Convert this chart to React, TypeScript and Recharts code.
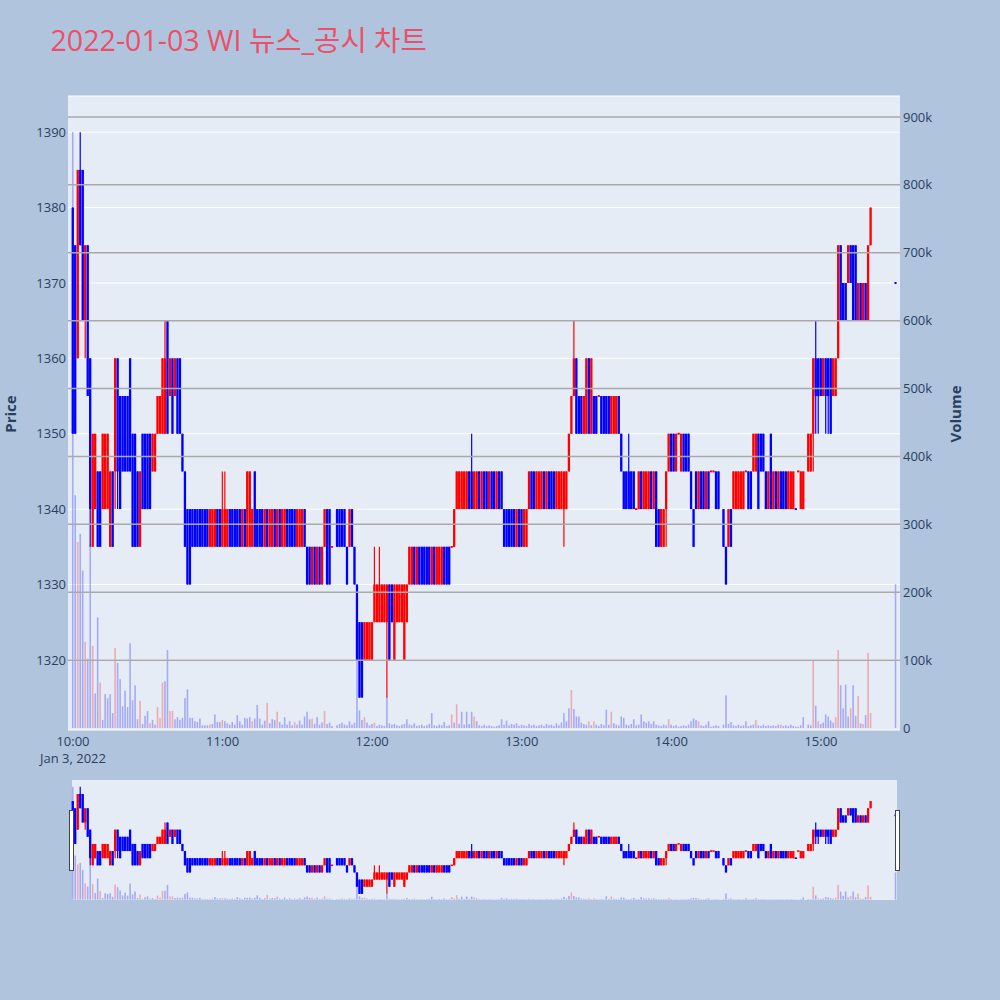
import React from "react";
import { ComposedChart, Bar, XAxis, YAxis, CartesianGrid, ReferenceLine } from "recharts";

// one row per minute from 10:00: [open, high, low, close, volume(k)], null = no trade
type Candle = [number, number, number, number, number] | null;

const timeTicks = [0, 60, 120, 180, 240, 300];
const timeLabels = ["10:00", "11:00", "12:00", "13:00", "14:00", "15:00"];
const priceTicks = [1320, 1330, 1340, 1350, 1360, 1370, 1380, 1390];
const volumeTicks = [0, 100, 200, 300, 400, 500, 600, 700, 800, 900];

const session10: Candle[] = [
  [1380, 1380, 1350, 1350, 878], [1375, 1375, 1350, 1350, 343], [1360, 1385, 1360, 1385, 274], [1385, 1390, 1375, 1375, 286],
  [1385, 1385, 1365, 1365, 232], [1365, 1375, 1360, 1375, 127], [1375, 1375, 1355, 1355, 102], [1360, 1360, 1335, 1340, 270],
  [1335, 1350, 1335, 1350, 121], [1340, 1350, 1340, 1350, 51], [1345, 1345, 1335, 1335, 163], [1345, 1345, 1335, 1335, 67],
  [1340, 1350, 1340, 1350, 12], [1340, 1350, 1340, 1350, 50], [1340, 1350, 1340, 1350, 44], [1335, 1345, 1335, 1345, 50],
  [1345, 1345, 1335, 1335, 22], [1345, 1360, 1340, 1360, 118], [1360, 1360, 1340, 1345, 96], [1355, 1355, 1340, 1340, 72],
  [1355, 1355, 1345, 1345, 32], [1355, 1355, 1345, 1345, 55], [1355, 1355, 1345, 1345, 31], [1360, 1360, 1345, 1345, 125],
  [1350, 1350, 1335, 1335, 41], [1350, 1350, 1335, 1335, 63], [1345, 1345, 1335, 1335, 13], [1335, 1345, 1335, 1345, 40],
  [1350, 1350, 1340, 1340, 6], [1350, 1350, 1340, 1340, 18], [1350, 1350, 1340, 1340, 25], [1350, 1350, 1340, 1340, 7],
  [1345, 1350, 1345, 1350, 12], [1345, 1350, 1345, 1350, 5], [1350, 1355, 1350, 1355, 31], [1350, 1355, 1350, 1355, 15],
  [1350, 1360, 1350, 1360, 67], [1350, 1365, 1350, 1360, 69], [1365, 1365, 1350, 1350, 115], [1355, 1360, 1355, 1360, 25],
  [1360, 1360, 1350, 1350, 25], [1355, 1360, 1355, 1360, 13], [1360, 1360, 1350, 1350, 16], [1360, 1360, 1350, 1350, 12],
  [1350, 1350, 1345, 1345, 15], [1345, 1345, 1335, 1335, 44], [1340, 1340, 1330, 1330, 57], [1340, 1340, 1330, 1330, 15],
  [1340, 1340, 1335, 1335, 15], [1340, 1340, 1335, 1335, 10], [1340, 1340, 1335, 1335, 9], [1340, 1340, 1335, 1335, 14],
  [1340, 1340, 1335, 1335, 4], [1340, 1340, 1335, 1335, 4], [1340, 1340, 1335, 1335, 4], [1335, 1340, 1335, 1340, 5],
  [1335, 1340, 1335, 1340, 6], [1335, 1340, 1335, 1340, 20], [1340, 1340, 1335, 1335, 9], [1340, 1340, 1335, 1335, 9],
];

const session11: Candle[] = [
  [1335, 1345, 1335, 1340, 12], [1335, 1345, 1335, 1340, 10], [1335, 1340, 1335, 1340, 7], [1340, 1340, 1335, 1335, 5],
  [1340, 1340, 1335, 1335, 9], [1340, 1340, 1335, 1335, 5], [1340, 1340, 1335, 1335, 19], [1340, 1340, 1335, 1335, 10],
  [1335, 1340, 1335, 1340, 5], [1340, 1340, 1335, 1335, 15], [1335, 1345, 1335, 1345, 14], [1335, 1345, 1335, 1345, 16],
  [1335, 1340, 1335, 1340, 10], [1345, 1345, 1335, 1335, 14], [1340, 1340, 1335, 1335, 34], [1340, 1340, 1335, 1335, 14],
  [1340, 1340, 1335, 1335, 5], [1335, 1340, 1335, 1340, 11], [1340, 1340, 1335, 1335, 37], [1335, 1340, 1335, 1340, 7],
  [1335, 1340, 1335, 1340, 13], [1340, 1340, 1335, 1335, 12], [1335, 1340, 1335, 1340, 24], [1340, 1340, 1335, 1335, 9],
  [1335, 1340, 1335, 1340, 5], [1335, 1340, 1335, 1340, 16], [1340, 1340, 1335, 1335, 5], [1340, 1340, 1335, 1335, 10],
  [1340, 1340, 1335, 1335, 4], [1340, 1340, 1335, 1335, 9], [1335, 1340, 1335, 1340, 5], [1335, 1340, 1335, 1340, 11],
  [1335, 1340, 1335, 1340, 5], [1340, 1340, 1335, 1335, 17], [1335, 1335, 1330, 1330, 24], [1335, 1335, 1330, 1330, 13],
  [1330, 1335, 1330, 1335, 14], [1335, 1335, 1330, 1330, 6], [1330, 1335, 1330, 1335, 16], [1335, 1335, 1330, 1330, 5],
  [1330, 1335, 1330, 1335, 8], [1335, 1340, 1335, 1340, 25], [1340, 1340, 1330, 1330, 6], [1340, 1340, 1330, 1330, 8],
  [1335, 1335, 1335, 1335, 3], null, [1340, 1340, 1335, 1335, 4], [1340, 1340, 1335, 1335, 6],
  [1340, 1340, 1335, 1335, 8], [1340, 1340, 1335, 1335, 5], [1335, 1335, 1330, 1330, 4], [1335, 1340, 1335, 1340, 10],
  [1340, 1340, 1335, 1335, 5], [1335, 1335, 1330, 1330, 8], [1330, 1330, 1320, 1320, 100], [1325, 1325, 1315, 1315, 26],
  [1325, 1325, 1315, 1315, 12], [1320, 1325, 1320, 1325, 16], [1320, 1325, 1320, 1325, 8], [1320, 1325, 1320, 1325, 4],
];

const session12: Candle[] = [
  [1320, 1325, 1320, 1325, 6], [1325, 1335, 1325, 1330, 8], [1325, 1330, 1325, 1330, 3], [1325, 1335, 1325, 1330, 5],
  [1325, 1330, 1325, 1330, 4], [1325, 1330, 1325, 1330, 3], [1325, 1330, 1315, 1330, 46], [1330, 1330, 1320, 1320, 7],
  [1330, 1330, 1325, 1325, 5], [1320, 1330, 1320, 1330, 6], [1325, 1330, 1325, 1330, 4], [1325, 1330, 1325, 1330, 3],
  [1325, 1330, 1325, 1330, 5], [1320, 1330, 1320, 1330, 6], [1325, 1330, 1325, 1330, 13], [1330, 1335, 1330, 1335, 5],
  [1330, 1335, 1330, 1335, 4], [1335, 1335, 1330, 1330, 7], [1330, 1335, 1330, 1335, 3], [1335, 1335, 1330, 1330, 4],
  [1335, 1335, 1330, 1330, 5], [1335, 1335, 1330, 1330, 3], [1335, 1335, 1330, 1330, 4], [1335, 1335, 1330, 1330, 6],
  [1330, 1335, 1330, 1335, 22], [1335, 1335, 1330, 1330, 4], [1330, 1335, 1330, 1335, 3], [1330, 1335, 1330, 1335, 5],
  [1330, 1335, 1330, 1335, 4], [1335, 1335, 1330, 1330, 9], [1335, 1335, 1330, 1330, 3], [1335, 1335, 1330, 1330, 4],
  [1335, 1335, 1335, 1335, 20], [1335, 1340, 1335, 1340, 8], [1340, 1345, 1340, 1345, 35], [1340, 1345, 1340, 1345, 6],
  [1340, 1345, 1340, 1345, 24], [1340, 1345, 1340, 1345, 5], [1340, 1345, 1340, 1345, 24], [1345, 1345, 1340, 1340, 6],
  [1345, 1350, 1340, 1340, 24], [1340, 1345, 1340, 1345, 17], [1340, 1345, 1340, 1345, 10], [1345, 1345, 1340, 1340, 4],
  [1340, 1345, 1340, 1345, 3], [1345, 1345, 1340, 1340, 5], [1345, 1345, 1340, 1340, 3], [1340, 1345, 1340, 1345, 4],
  [1345, 1345, 1340, 1340, 3], [1345, 1345, 1340, 1340, 2], [1340, 1345, 1340, 1345, 3], [1345, 1345, 1340, 1340, 4],
  [1345, 1345, 1340, 1340, 13], [1340, 1340, 1335, 1335, 5], [1340, 1340, 1335, 1335, 11], [1340, 1340, 1335, 1335, 4],
  [1340, 1340, 1335, 1335, 6], [1340, 1340, 1335, 1335, 5], [1335, 1340, 1335, 1340, 7], [1340, 1340, 1335, 1335, 3],
];

const session13: Candle[] = [
  [1340, 1340, 1335, 1335, 5], [1335, 1340, 1335, 1340, 4], [1335, 1340, 1335, 1340, 3], [1340, 1345, 1340, 1345, 6],
  [1345, 1345, 1340, 1340, 4], [1345, 1345, 1340, 1340, 5], [1340, 1345, 1340, 1345, 3], [1340, 1345, 1340, 1345, 4],
  [1340, 1345, 1340, 1345, 5], [1345, 1345, 1340, 1340, 3], [1340, 1345, 1340, 1345, 6], [1345, 1345, 1340, 1340, 4],
  [1345, 1345, 1340, 1340, 5], [1345, 1345, 1340, 1340, 3], [1340, 1345, 1340, 1345, 7], [1340, 1345, 1340, 1345, 4],
  [1340, 1345, 1340, 1345, 8], [1340, 1345, 1335, 1345, 22], [1340, 1345, 1340, 1345, 10], [1345, 1350, 1345, 1350, 29],
  [1350, 1355, 1350, 1355, 56], [1355, 1365, 1355, 1360, 28], [1360, 1360, 1350, 1350, 17], [1355, 1355, 1350, 1350, 17],
  [1355, 1355, 1350, 1350, 8], [1350, 1355, 1350, 1355, 6], [1350, 1360, 1350, 1360, 5], [1360, 1360, 1350, 1350, 10],
  [1350, 1360, 1350, 1360, 4], [1355, 1355, 1350, 1350, 10], [1355, 1355, 1350, 1350, 5], [1355, 1355, 1355, 1355, 3],
  [1355, 1355, 1350, 1350, 6], [1355, 1355, 1350, 1350, 4], [1355, 1355, 1350, 1350, 27], [1355, 1355, 1350, 1350, 5],
  [1350, 1355, 1350, 1355, 24], [1350, 1355, 1350, 1355, 7], [1350, 1355, 1350, 1355, 5], [1355, 1355, 1350, 1350, 4],
  [1350, 1350, 1345, 1345, 17], [1345, 1345, 1340, 1340, 15], [1345, 1345, 1340, 1340, 5], [1345, 1350, 1340, 1340, 4],
  [1345, 1345, 1340, 1340, 6], [1345, 1345, 1340, 1340, 13], [1340, 1340, 1340, 1340, 4], [1340, 1345, 1340, 1345, 5],
  [1345, 1345, 1340, 1340, 20], [1340, 1345, 1340, 1345, 10], [1340, 1345, 1340, 1345, 8], [1340, 1345, 1340, 1345, 10],
  [1345, 1345, 1340, 1340, 6], [1340, 1345, 1340, 1345, 10], [1345, 1345, 1335, 1335, 5], [1340, 1340, 1335, 1335, 4],
  [1335, 1340, 1335, 1340, 3], [1335, 1340, 1335, 1340, 5], [1340, 1345, 1335, 1345, 4], [1345, 1350, 1345, 1350, 13],
];

const session14: Candle[] = [
  [1350, 1350, 1345, 1345, 5], [1350, 1350, 1345, 1345, 3], [1345, 1350, 1345, 1350, 4], [1350, 1350, 1350, 1350, 2],
  [1345, 1350, 1345, 1350, 3], [1350, 1350, 1345, 1345, 4], [1350, 1350, 1345, 1345, 3], [1350, 1350, 1345, 1345, 5],
  [1345, 1345, 1340, 1340, 10], [1340, 1340, 1335, 1335, 14], [1345, 1345, 1340, 1340, 12], [1340, 1345, 1340, 1345, 10],
  [1345, 1345, 1340, 1340, 4], [1345, 1345, 1340, 1340, 3], [1340, 1345, 1340, 1345, 5], [1345, 1345, 1340, 1340, 10],
  [1345, 1345, 1345, 1345, 2], [1345, 1345, 1345, 1345, 3], [1345, 1345, 1340, 1340, 4], [1345, 1345, 1340, 1340, 3],
  null, [1340, 1340, 1335, 1335, 5], [1335, 1335, 1330, 1330, 48], [1335, 1340, 1335, 1340, 6],
  [1340, 1340, 1335, 1335, 9], [1340, 1345, 1340, 1345, 4], [1340, 1345, 1340, 1345, 3], [1340, 1345, 1340, 1345, 5],
  [1340, 1345, 1340, 1345, 3], [1340, 1345, 1340, 1345, 4], [1345, 1345, 1345, 1345, 10], [1345, 1345, 1340, 1340, 3],
  [1345, 1345, 1340, 1340, 4], [1345, 1350, 1345, 1350, 5], [1345, 1350, 1345, 1350, 12], [1350, 1350, 1340, 1340, 4],
  [1350, 1350, 1345, 1345, 3], [1350, 1350, 1345, 1345, 5], [1345, 1345, 1340, 1340, 3], [1340, 1345, 1340, 1345, 4],
  [1350, 1350, 1340, 1340, 3], [1340, 1345, 1340, 1345, 4], [1345, 1345, 1340, 1340, 3], [1340, 1345, 1340, 1345, 5],
  [1345, 1345, 1340, 1340, 5], [1345, 1345, 1340, 1340, 3], [1345, 1345, 1340, 1340, 4], [1340, 1345, 1340, 1345, 3],
  [1340, 1345, 1340, 1345, 5], [1340, 1345, 1340, 1345, 3], [1340, 1340, 1340, 1340, 2], [1345, 1345, 1345, 1345, 2],
  [1340, 1345, 1340, 1345, 4], [1340, 1345, 1340, 1345, 16], null, [1345, 1350, 1345, 1350, 5],
  [1345, 1350, 1345, 1350, 4], [1350, 1360, 1345, 1360, 100], [1360, 1365, 1350, 1355, 33], [1360, 1360, 1350, 1355, 10],
];

const session15: Candle[] = [
  [1360, 1360, 1355, 1355, 6], [1355, 1360, 1355, 1360, 8], [1360, 1360, 1350, 1355, 20], [1360, 1360, 1350, 1355, 17],
  [1360, 1360, 1350, 1350, 11], [1355, 1360, 1355, 1360, 8], [1355, 1360, 1355, 1360, 16], [1360, 1375, 1360, 1375, 115],
  [1375, 1375, 1365, 1365, 63], [1370, 1370, 1365, 1365, 29], [1370, 1370, 1365, 1365, 64], [1370, 1375, 1370, 1375, 17],
  [1375, 1375, 1370, 1370, 29], [1375, 1375, 1365, 1365, 63], [1375, 1375, 1365, 1365, 18], [1365, 1370, 1365, 1370, 47],
  [1370, 1370, 1365, 1365, 7], [1365, 1370, 1365, 1370, 6], [1370, 1370, 1365, 1365, 19], [1365, 1375, 1365, 1375, 111],
  [1375, 1380, 1375, 1380, 22],
];

// 15:30 closing single-price print
const closingMinute = 330;
const closingCandle: Candle = [1370, 1370, 1370, 1370, 212];

// minutes whose volume bar is drawn in red
const redVolumeMinutes = [
  2, 5, 8, 11, 17, 27, 31, 34, 35, 36, 39, 40, 55, 60, 72, 78, 82, 89, 96, 101, 117, 121, 152, 154, 161,
  200, 207, 209, 216, 239, 251, 274, 284, 297, 299, 306, 307, 312, 315, 317, 319, 320,
];

const UP = "#ff0000";
const DOWN = "#0000ff";
const FONT = "'Open Sans', 'Noto Sans CJK KR', sans-serif";
const INK = "#2a3f5f";

const rows: any[] = [];
let prevClose = 0;
const addRow = (m: number, c: Candle) => {
  if (!c) {
    rows.push({ m, range: null, vol: 0 });
    return;
  }
  const [o, h, l, cl, v] = c;
  const up = cl > o || (cl === o && cl >= prevClose);
  rows.push({
    m, o, h, l, c: cl,
    // flat prints get a hair of height so the dash still shows
    range: h > l ? [l, h] : [l - 0.12, h + 0.12],
    up,
    vol: v,
    volUp: redVolumeMinutes.includes(m),
  });
  prevClose = cl;
};
let minute = 0;
[session10, session11, session12, session13, session14, session15].forEach((s) =>
  s.forEach((c) => {
    addRow(minute, c);
    minute += 1;
  })
);
addRow(closingMinute, closingCandle);

const xDomain = [-2.0, 331.7];
const priceDomain = [1310.7, 1394.8];
const volDomain = [-2.9, 930.9];

const CandleShape = (props: any) => {
  const { x, y, width, height, payload } = props;
  if (!payload || !payload.range || !isFinite(y) || !isFinite(height)) return <g />;
  const top = height >= 0 ? y : y + height;
  const hPx = Math.abs(height);
  const [lo, hi] = payload.range;
  const k = hPx / (hi - lo);
  const color = payload.up ? UP : DOWN;
  const cx = x + width / 2;
  const bTop = top + (hi - Math.max(payload.o, payload.c)) * k;
  const bBot = top + (hi - Math.min(payload.o, payload.c)) * k;
  const bh = Math.max(bBot - bTop, 1.6);
  return (
    <g>
      <line x1={cx} x2={cx} y1={top} y2={top + hPx} stroke={color} strokeWidth={1.2} />
      <rect x={cx - 1.15} y={bTop - (bh - (bBot - bTop)) / 2} width={2.3} height={bh} fill={color} />
    </g>
  );
};

const VolumeShape = (props: any) => {
  const { x, y, width, height, payload } = props;
  if (!payload || !payload.vol || !isFinite(height)) return <g />;
  const top = height >= 0 ? y : y + height;
  const cx = x + width / 2;
  return (
    <rect
      x={cx - 0.8}
      y={top}
      width={1.6}
      height={Math.abs(height)}
      fill={payload.volUp ? UP : DOWN}
      fillOpacity={0.28}
    />
  );
};

const TimeTick = (props: any) => {
  const { x, y, payload } = props;
  const i = timeTicks.indexOf(payload.value);
  return (
    <g>
      <text x={x} y={y + 15.5} textAnchor="middle" fill={INK} fontSize={13} fontFamily={FONT}>
        {timeLabels[i]}
      </text>
      {i === 0 && (
        <text x={x} y={y + 32.5} textAnchor="middle" fill={INK} fontSize={13} fontFamily={FONT}>
          Jan 3, 2022
        </text>
      )}
    </g>
  );
};

export default function App() {
  const tickStyle = { fill: INK, fontSize: 13, fontFamily: FONT };
  return (
    <div
      style={{
        position: "absolute",
        left: 0,
        top: 0,
        width: 1000,
        height: 1000,
        background: "#b0c4de",
        fontFamily: FONT,
      }}
    >
      <div style={{ position: "absolute", left: 0, top: 0 }}>
        <ComposedChart width={1000} height={770} data={rows} margin={{ top: 96, right: 0, bottom: 0, left: 0 }}>
          <CartesianGrid xAxisId="main" yAxisId="price" vertical={false} stroke="#ffffff" strokeWidth={1} fill="#e5ecf6" />
          <XAxis
            xAxisId="main"
            dataKey="m"
            type="number"
            domain={xDomain}
            ticks={timeTicks}
            interval={0}
            allowDataOverflow
            axisLine={false}
            tickLine={false}
            tickSize={0}
            tickMargin={0}
            height={40}
            tick={(p: any) => <TimeTick {...p} />}
          />
          <XAxis xAxisId="vx" dataKey="m" type="number" domain={xDomain} allowDataOverflow hide />
          <YAxis
            yAxisId="price"
            domain={priceDomain}
            ticks={priceTicks}
            interval={0}
            allowDataOverflow
            axisLine={false}
            tickLine={false}
            tickSize={0}
            tickMargin={2}
            width={68}
            tick={tickStyle}
          />
          <YAxis
            yAxisId="vol"
            orientation="right"
            domain={volDomain}
            ticks={volumeTicks}
            interval={0}
            allowDataOverflow
            axisLine={false}
            tickLine={false}
            tickSize={0}
            tickMargin={3}
            width={100}
            tick={tickStyle}
            tickFormatter={(v: number) => (v === 0 ? "0" : `${v}k`)}
          />
          <Bar
            xAxisId="main"
            yAxisId="price"
            dataKey="range"
            barSize={2}
            shape={(p: any) => <CandleShape {...p} />}
            isAnimationActive={false}
          />
          {volumeTicks.slice(1).map((v) => (
            <ReferenceLine key={v} xAxisId="main" yAxisId="vol" y={v} stroke="#a9a9a9" strokeWidth={1.5} />
          ))}
          <Bar
            xAxisId="vx"
            yAxisId="vol"
            dataKey="vol"
            barSize={2}
            shape={(p: any) => <VolumeShape {...p} />}
            isAnimationActive={false}
          />
        </ComposedChart>
      </div>

      {/* range slider strip */}
      <div style={{ position: "absolute", left: 72, top: 780, width: 825, height: 120, background: "#e5ecf6" }} />
      <div style={{ position: "absolute", left: 0, top: 780 }}>
        <ComposedChart width={1000} height={120} data={rows} margin={{ top: 0, right: 100, bottom: 0, left: 68 }}>
          <XAxis xAxisId="main" dataKey="m" type="number" domain={xDomain} allowDataOverflow hide />
          <XAxis xAxisId="vx" dataKey="m" type="number" domain={xDomain} allowDataOverflow hide />
          <YAxis yAxisId="price" domain={priceDomain} allowDataOverflow hide />
          <YAxis yAxisId="vol" orientation="right" domain={volDomain} allowDataOverflow hide />
          <Bar
            xAxisId="main"
            yAxisId="price"
            dataKey="range"
            barSize={2}
            shape={(p: any) => <CandleShape {...p} />}
            isAnimationActive={false}
          />
          <Bar
            xAxisId="vx"
            yAxisId="vol"
            dataKey="vol"
            barSize={2}
            shape={(p: any) => <VolumeShape {...p} />}
            isAnimationActive={false}
          />
        </ComposedChart>
      </div>

      <svg width={1000} height={1000} style={{ position: "absolute", left: 0, top: 0, pointerEvents: "none" }}>
        <text x={50.5} y={50.5} fill="#ec5068" fontSize={28.6} fontFamily={FONT}>
          2022-01-03 WI 뉴스_공시 차트
        </text>
        <text transform="translate(15.5,414) rotate(-90)" textAnchor="middle" fill={INK} fontSize={15} fontWeight="bold" fontFamily={FONT}>
          Price
        </text>
        <text transform="translate(960.5,414) rotate(-90)" textAnchor="middle" fill={INK} fontSize={15} fontWeight="bold" fontFamily={FONT}>
          Volume
        </text>
        <rect x={69.5} y={810.5} width={4} height={60} fill="#ffffff" stroke="#444444" strokeWidth={1} />
        <rect x={895.5} y={810.5} width={4} height={60} fill="#ffffff" stroke="#444444" strokeWidth={1} />
      </svg>
    </div>
  );
}
